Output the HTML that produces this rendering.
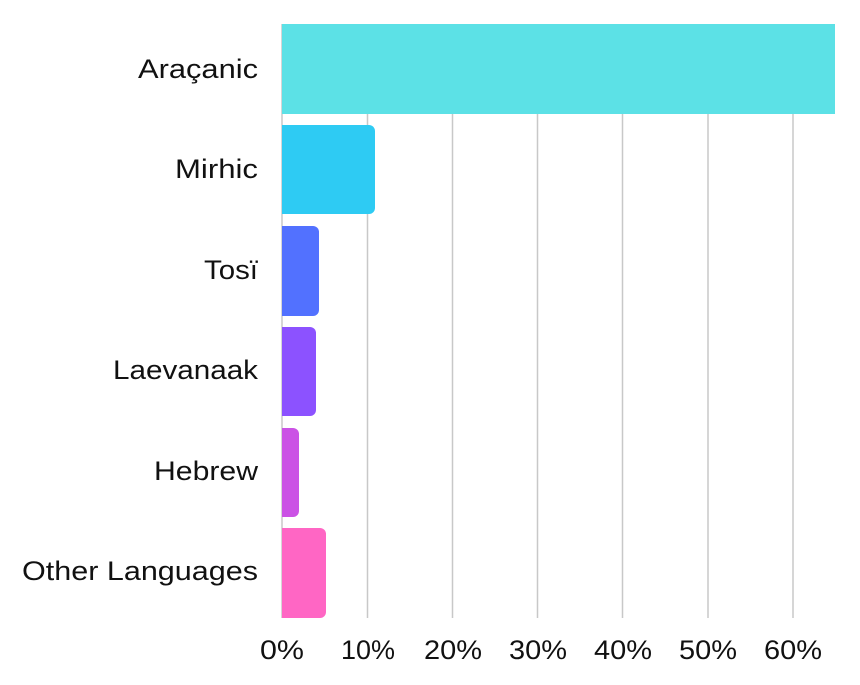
<!DOCTYPE html>
<html><head><meta charset="utf-8"><style>
html,body{margin:0;padding:0;background:#fff;width:860px;height:685px;overflow:hidden}
svg text{font-family:"Liberation Sans",sans-serif;font-size:27px;fill:#111}
</style></head><body>
<svg width="860" height="685" xmlns="http://www.w3.org/2000/svg">
<g stroke="#c8c8c8" stroke-width="1.5">
<line x1="282" y1="24" x2="282" y2="618"/>
<line x1="367.5" y1="24" x2="367.5" y2="618"/>
<line x1="452.5" y1="24" x2="452.5" y2="618"/>
<line x1="537.5" y1="24" x2="537.5" y2="618"/>
<line x1="622.5" y1="24" x2="622.5" y2="618"/>
<line x1="708" y1="24" x2="708" y2="618"/>
<line x1="793" y1="24" x2="793" y2="618"/>
</g>
<rect x="282" y="24" width="553" height="90" fill="#5ce1e6"/>
<path d="M282 125 H369 a6 6 0 0 1 6 6 V208 a6 6 0 0 1 -6 6 H282Z" fill="#2ecbf3"/>
<path d="M282 226 H313 a6 6 0 0 1 6 6 V310 a6 6 0 0 1 -6 6 H282Z" fill="#5271ff"/>
<path d="M282 327 H310 a6 6 0 0 1 6 6 V410 a6 6 0 0 1 -6 6 H282Z" fill="#8c52ff"/>
<path d="M282 428 H293 a6 6 0 0 1 6 6 V511 a6 6 0 0 1 -6 6 H282Z" fill="#cb52e5"/>
<path d="M282 528 H320 a6 6 0 0 1 6 6 V612 a6 6 0 0 1 -6 6 H282Z" fill="#ff66c4"/>
<text x="138" y="78" textLength="120" lengthAdjust="spacingAndGlyphs">Araçanic</text>
<text x="175" y="178" textLength="83" lengthAdjust="spacingAndGlyphs">Mirhic</text>
<text x="204" y="279" textLength="54" lengthAdjust="spacingAndGlyphs">Tosï</text>
<text x="113" y="379" textLength="145" lengthAdjust="spacingAndGlyphs">Laevanaak</text>
<text x="154" y="480" textLength="104" lengthAdjust="spacingAndGlyphs">Hebrew</text>
<text x="22" y="580" textLength="236" lengthAdjust="spacingAndGlyphs">Other Languages</text>
<g>
<text x="260" y="659" textLength="44" lengthAdjust="spacingAndGlyphs">0%</text>
<text x="341" y="659" textLength="54" lengthAdjust="spacingAndGlyphs">10%</text>
<text x="424" y="659" textLength="58" lengthAdjust="spacingAndGlyphs">20%</text>
<text x="509" y="659" textLength="58" lengthAdjust="spacingAndGlyphs">30%</text>
<text x="594" y="659" textLength="58" lengthAdjust="spacingAndGlyphs">40%</text>
<text x="679" y="659" textLength="58" lengthAdjust="spacingAndGlyphs">50%</text>
<text x="764" y="659" textLength="58" lengthAdjust="spacingAndGlyphs">60%</text>
</g>
</svg>
</body></html>
